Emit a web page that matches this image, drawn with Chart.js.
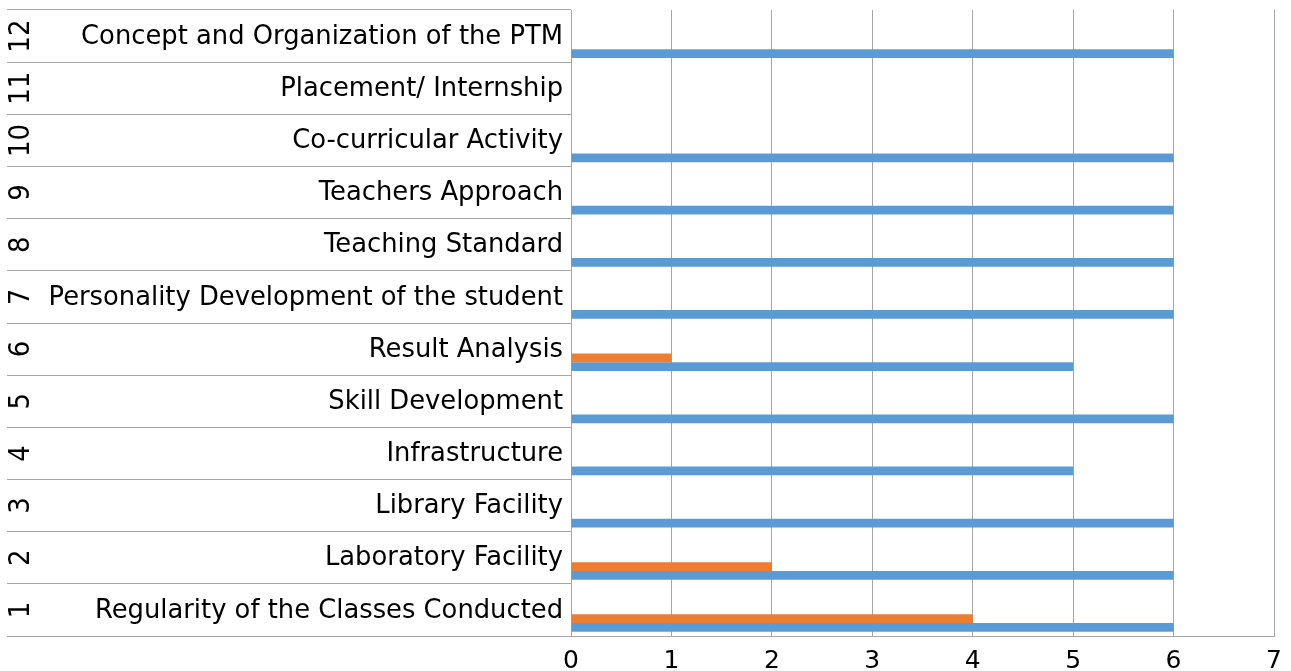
<!DOCTYPE html>
<html>
<head>
<meta charset="utf-8">
<script src="https://cdn.jsdelivr.net/npm/chart.js@4/dist/chart.umd.min.js"></script>
<style>
  body { margin: 0; background: #fff; }
  canvas { display: block; }
</style>
</head>
<body>
<canvas id="grafico" width="1291" height="671"></canvas>
<script>
// categorias (1 embaixo, 12 em cima)
const numeros = ['1', '2', '3', '4', '5', '6', '7', '8', '9', '10', '11', '12'];
const categorias = [
    'Regularity of the Classes Conducted',
    'Laboratory Facility',
    'Library Facility',
    'Infrastructure',
    'Skill Development',
    'Result Analysis',
    'Personality Development of the student',
    'Teaching Standard',
    'Teachers Approach',
    'Co-curricular Activity',
    'Placement/ Internship',
    'Concept and Organization of the PTM'
];

// series (serie 1 = azul, serie 2 = laranja, as outras vazias)
const serie1 = [6, 6, 6, 5, 6, 5, 6, 6, 6, 6, 0, 6];
const serie2 = [4, 2, 0, 0, 0, 1, 0, 0, 0, 0, 0, 0];
const serie3 = [0, 0, 0, 0, 0, 0, 0, 0, 0, 0, 0, 0];
const serie4 = [0, 0, 0, 0, 0, 0, 0, 0, 0, 0, 0, 0];
const serie5 = [0, 0, 0, 0, 0, 0, 0, 0, 0, 0, 0, 0];

const xTicks = [0, 1, 2, 3, 4, 5, 6, 7];

const fonte = '"DejaVu Sans", sans-serif';
const cinza = '#a6a6a6';

// desenha a tabela de rotulos a esquerda
const rotulosPlugin = {
    id: 'rotulos',
    afterDraw(chart) {
        const ctx = chart.ctx;
        const y = chart.scales.y;
        const left = chart.chartArea.left;
        ctx.save();
        ctx.fillStyle = '#000';
        categorias.forEach((cat, i) => {
            const py = y.getPixelForValue(i);
            ctx.font = '25.8px ' + fonte;
            ctx.textAlign = 'right';
            ctx.textBaseline = 'middle';
            ctx.fillText(cat, left - 8, py + 1);

            ctx.save();
            ctx.translate(21, py);
            ctx.rotate(-Math.PI / 2);
            ctx.scale(1, 1.12);
            ctx.font = '26px ' + fonte;
            ctx.textAlign = 'center';
            ctx.textBaseline = 'middle';
            ctx.fillText(numeros[i], 0, 0);
            ctx.restore();
        });
        ctx.restore();
    }
};

const ctx = document.getElementById('grafico').getContext('2d');
new Chart(ctx, {
    type: 'bar',
    data: {
        labels: categorias,
        // ordem de cima para baixo dentro de cada faixa
        datasets: [
            { label: 'Series5', data: serie5, backgroundColor: '#4472C4' },
            { label: 'Series4', data: serie4, backgroundColor: '#FFC000' },
            { label: 'Series3', data: serie3, backgroundColor: '#A5A5A5' },
            { label: 'Series2', data: serie2, backgroundColor: '#ED7D31' },
            { label: 'Series1', data: serie1, backgroundColor: '#5B9BD5' }
        ]
    },
    options: {
        indexAxis: 'y',
        responsive: false,
        animation: false,
        layout: { padding: { left: 7, top: 10, right: 17, bottom: 0 } },
        datasets: {
            bar: { categoryPercentage: 0.84, barPercentage: 1.0, borderWidth: 0 }
        },
        plugins: {
            legend: { display: false },
            tooltip: { enabled: false }
        },
        scales: {
            x: {
                min: 0,
                max: 7,
                afterBuildTicks: s => { s.ticks = xTicks.map(v => ({ value: v })); },
                afterFit: s => { s.height = 35; s.paddingRight = 0; s.paddingLeft = 0; },
                grid: { color: cinza, drawTicks: false },
                border: { color: cinza },
                ticks: {
                    padding: 10,
                    color: '#000',
                    font: { family: fonte, size: 25 },
                    maxRotation: 0
                }
            },
            y: {
                reverse: true,
                afterFit: s => { s.width = 564; },
                ticks: { display: false },
                grid: {
                    offset: true,
                    drawOnChartArea: false,
                    tickLength: 564,
                    color: cinza
                },
                border: { color: cinza }
            }
        }
    },
    plugins: [rotulosPlugin]
});
</script>
</body>
</html>
